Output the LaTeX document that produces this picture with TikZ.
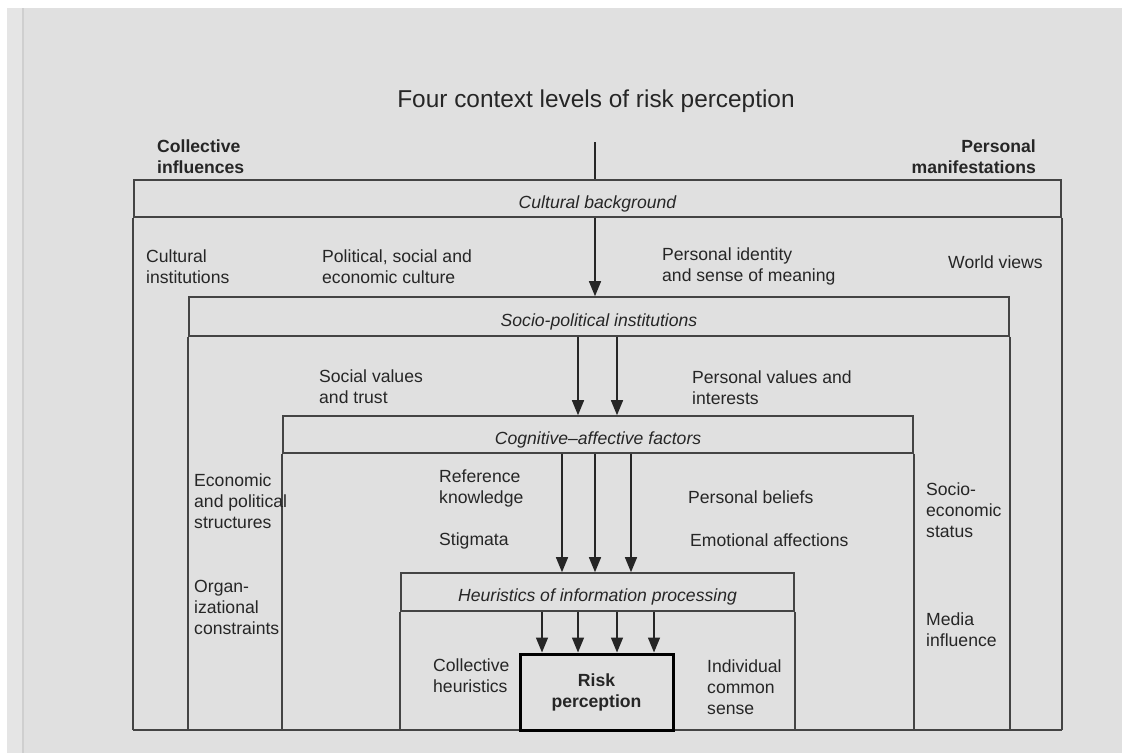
\documentclass[tikz,border=0pt]{standalone}
\usepackage{fontspec}
\setmainfont{Liberation Sans}
\usetikzlibrary{arrows.meta}
\definecolor{paper}{HTML}{E0E0E0}
\definecolor{margin}{HTML}{E5E5E5}
\definecolor{rule}{HTML}{CFCFCF}
\definecolor{ink}{HTML}{262626}
\definecolor{frame}{HTML}{444444}

\tikzset{
  txt/.style={inner sep=0pt, text=ink, align=left, anchor=west,
              font=\fontsize{17.6}{21}\selectfont},
  hdr/.style={draw=frame, line width=1.6pt, inner sep=0pt, text=ink,
              text height=19.6pt, text depth=0pt,
              font=\fontsize{17.6}{21}\selectfont\itshape},
  boxline/.style={draw=frame, line width=1.6pt},
  flow/.style={draw=black!85, line width=1.5pt,
               -{Triangle[width=12pt,length=15pt]}},
}

\begin{document}
\begin{tikzpicture}[x=1pt,y=-1pt]
\useasboundingbox (0,0) rectangle (1122,753);
% page and margin
\fill[white] (0,0) rectangle (1122,753);
\fill[paper] (7,8) rectangle (1122,753);
\fill[margin] (7,8) rectangle (22,753);
\draw[rule, line width=2pt] (23,8) -- (23,753);

% title
\node[inner sep=0pt, text=ink, font=\fontsize{24.4}{28}\selectfont] (title) at (596,101)
  {Four context levels of risk perception};
\coordinate (stem) at (595,142);
\coordinate (base) at (0,730);

% headings
\node[txt, font=\fontsize{17.6}{21}\selectfont\bfseries] (coll) at (157,157)
  {Collective\\influences};
\node[txt, anchor=east, align=right, font=\fontsize{17.6}{21}\selectfont\bfseries] (pers) at (1036,157)
  {Personal\\manifestations};

% level headers
\node[hdr, minimum width=927pt, minimum height=37pt] (cb) at (597.5,198.5) {Cultural background};
\node[hdr, minimum width=820pt, minimum height=39pt] (sp) at (599,316.5) {Socio-political institutions};
\node[hdr, minimum width=630pt, minimum height=37pt] (ca) at (598,434.5) {Cognitive–affective factors};
\node[hdr, minimum width=393pt, minimum height=38pt] (hp) at (597.5,592) {Heuristics of information processing};

% level bodies
\foreach \lv in {cb,sp,ca,hp}{
  \draw[boxline] (\lv.south west) -- (\lv.south west |- base);
  \draw[boxline] (\lv.south east) -- (\lv.south east |- base);
}
\draw[boxline] (cb.south west |- base) -- (cb.south east |- base);

% core node
\node[draw=black, line width=3pt, minimum width=153pt, minimum height=76pt, inner sep=0pt,
      text=ink, align=center, font=\fontsize{17.6}{21}\selectfont\bfseries] (rp) at (596.5,692)
  {Risk\\perception};

% connectors
\draw[draw=black!85, line width=1.5pt] (stem) -- (stem |- cb.north);
\draw[flow] (cb.south -| stem) -- (sp.north -| stem);
\foreach \x in {578,617}
  \draw[flow] (sp.south -| \x,0) -- (ca.north -| \x,0);
\foreach \x in {562,595,631}
  \draw[flow] (ca.south -| \x,0) -- (hp.north -| \x,0);
\foreach \x in {542,578,617,654}
  \draw[flow] (hp.south -| \x,0) -- (rp.north -| \x,0);

% level 1 texts
\node[txt] (t1) at (146,267) {Cultural\\institutions};
\node[txt] (t2) at (322,267) {Political, social and\\economic culture};
\node[txt] (t3) at (662,266) {Personal identity\\and sense of meaning};
\node[txt] (t4) at (948,262) {World views};

% level 2 texts
\node[txt] (t5) at (319,387) {Social values\\and trust};
\node[txt] (t6) at (692,388) {Personal values and\\interests};
\node[txt] (t7) at (194,501) {Economic\\and political\\structures};
\node[txt] (t8) at (194,607) {Organ-\\izational\\constraints};
\node[txt] (t9) at (926,510) {Socio-\\economic\\status};
\node[txt] (t10) at (926,630) {Media\\influence};

% level 3 texts
\node[txt] (t11) at (439,488) {Reference\\knowledge};
\node[txt] (t12) at (439,541) {Stigmata};
\node[txt] (t13) at (688,497) {Personal beliefs};
\node[txt] (t14) at (690,540) {Emotional affections};

% level 4 texts
\node[txt] (t15) at (433,676) {Collective\\heuristics};
\node[txt] (t16) at (707,687) {Individual\\common\\sense};
\end{tikzpicture}
\end{document}
